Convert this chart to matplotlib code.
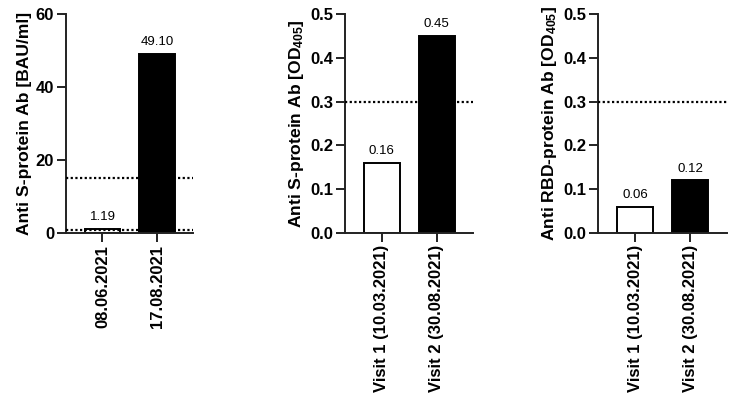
import matplotlib
matplotlib.use("Agg")
import matplotlib.pyplot as plt

plt.rcParams["font.family"] = ["Liberation Sans", "DejaVu Sans"]
plt.rcParams["mathtext.fontset"] = "custom"
plt.rcParams["mathtext.rm"] = "Liberation Sans:bold"
plt.rcParams["mathtext.it"] = "Liberation Sans:bold"
plt.rcParams["mathtext.bf"] = "Liberation Sans:bold"

# panel 1: BAU/ml
dates_1 = ["08.06.2021", "17.08.2021"]
values_1 = [1.19, 49.10]
cutoffs_1 = [15, 0.8]

# panel 2 / 3: OD405
visits = ["Visit 1 (10.03.2021)", "Visit 2 (30.08.2021)"]
values_s = [0.16, 0.45]
values_rbd = [0.06, 0.12]
cutoff_od = [0.3]

panels = [
    dict(labels=dates_1, values=values_1, cutoffs=cutoffs_1,
         ylabel="Anti S-protein Ab [BAU/ml]", ylim=(0, 60),
         yticks=[0, 20, 40, 60], fmt="{:.0f}"),
    dict(labels=visits, values=values_s, cutoffs=cutoff_od,
         ylabel="Anti S-protein Ab [OD$_{405}$]", ylim=(0, 0.5),
         yticks=[0, 0.1, 0.2, 0.3, 0.4, 0.5], fmt="{:.1f}"),
    dict(labels=visits, values=values_rbd, cutoffs=cutoff_od,
         ylabel="Anti RBD-protein Ab [OD$_{405}$]", ylim=(0, 0.5),
         yticks=[0, 0.1, 0.2, 0.3, 0.4, 0.5], fmt="{:.1f}"),
]

lefts = [0.0894, 0.4675, 0.8103]
widths = [0.1721, 0.1734, 0.1748]
bottom, height = 0.4247, 0.5407
axis_color = "#222222"

fig = plt.figure(figsize=(7.38, 4.05), dpi=100)

for left, width, p in zip(lefts, widths, panels):
    ax = fig.add_axes([left, bottom, width, height])
    x = list(range(len(p["values"])))
    ax.bar(x, p["values"], width=0.65, color=["white", "black"],
           edgecolor="black", linewidth=1.4, zorder=2)
    for xi, v in zip(x, p["values"]):
        ax.annotate(f"{v:.2f}", (xi, v), xytext=(0, 4), textcoords="offset points",
                    ha="center", va="bottom", fontsize=9.5, zorder=4)
    for c in p["cutoffs"]:
        ax.axhline(c, color="black", linewidth=1.6, dashes=(1, 1.1), zorder=3)
    ax.set_xlim(-0.67, 1.66)
    ax.set_ylim(*p["ylim"])
    ax.set_yticks(p["yticks"])
    ax.set_yticklabels([p["fmt"].format(t) for t in p["yticks"]],
                       fontsize=12, fontweight="bold")
    ax.set_xticks(x)
    ax.set_xticklabels(p["labels"], rotation=90, fontsize=12, fontweight="bold")
    ax.set_ylabel(p["ylabel"], fontsize=12.6, fontweight="bold", labelpad=3)
    for side in ("top", "right"):
        ax.spines[side].set_visible(False)
    for side in ("left", "bottom"):
        ax.spines[side].set_linewidth(1.4)
        ax.spines[side].set_color(axis_color)
    ax.tick_params(length=6.5, width=1.4, color=axis_color, pad=2)

fig.savefig("out.png", dpi=100)
